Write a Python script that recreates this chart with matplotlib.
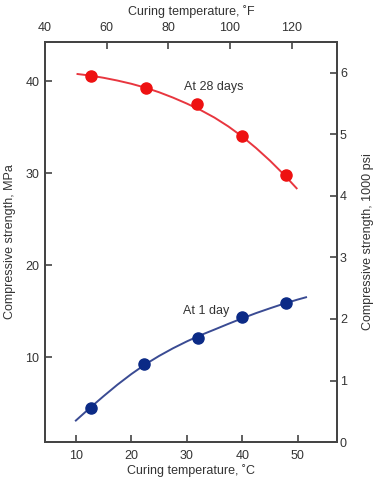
import matplotlib
matplotlib.use("Agg")
import matplotlib.pyplot as plt

plt.rcParams['font.family'] = ['Liberation Sans', 'DejaVu Sans']

# Measured points (curing temperature °C, compressive strength MPa)
temp_28d = [12.7, 22.6, 31.85, 39.9, 47.8]
strength_28d = [40.54, 39.2, 37.5, 34.0, 29.75]
temp_1d = [12.7, 22.3, 32.0, 40.0, 47.9]
strength_1d = [4.43, 9.2, 12.1, 14.3, 15.9]

# Fitted curves
curve_temp_28d = [10.3, 12.5, 15, 17.5, 20, 22.5, 25, 27.5, 30, 32.5, 35, 37.5, 40, 42.5, 45, 47.5, 49.8]
curve_str_28d = [40.76, 40.6, 40.35, 40.05, 39.7, 39.28, 38.78, 38.2, 37.55, 36.84, 36.02, 35.06, 33.96, 32.71, 31.34, 29.84, 28.34]
curve_temp_1d = [10.0, 12.5, 15, 17.5, 20, 22.5, 25, 27.5, 30, 32.5, 35, 37.5, 40, 42.5, 45, 47.5, 50, 51.5]
curve_str_1d = [3.1, 4.45, 5.75, 7.0, 8.15, 9.2, 10.12, 10.95, 11.7, 12.38, 12.99, 13.61, 14.21, 14.78, 15.3, 15.8, 16.25, 16.5]

bottom_ticks = [10, 20, 30, 40, 50]
top_ticks = [40, 60, 80, 100, 120]
left_ticks = [10, 20, 30, 40]
right_ticks = [0, 1, 2, 3, 4, 5, 6]

red_line = '#e8363f'
red_pt = '#ee1111'
blue_line = '#3a4b93'
blue_pt = '#0b2a86'
spine_c = '#444444'
txt_c = '#333333'
FS = 9

fig = plt.figure(figsize=(3.75, 4.8), dpi=100)
ax = fig.add_axes([0.12, 0.079, 0.779, 0.8335])

ax.plot(curve_temp_28d, curve_str_28d, color=red_line, lw=1.4, zorder=2)
ax.plot(temp_28d, strength_28d, 'o', color=red_pt, ms=8, zorder=3)
ax.plot(curve_temp_1d, curve_str_1d, color=blue_line, lw=1.4, zorder=2)
ax.plot(temp_1d, strength_1d, 'o', color=blue_pt, ms=8, zorder=3)

ax.text(34.8, 39.3, 'At 28 days', ha='center', va='center', fontsize=FS, color=txt_c)
ax.text(33.5, 15.0, 'At 1 day', ha='center', va='center', fontsize=FS, color=txt_c)

ax.set_xlim(4.44, 57.1)
ax.set_ylim(0.76, 44.24)
ax.set_xticks(bottom_ticks)
ax.set_yticks(left_ticks)
ax.set_xlabel('Curing temperature, ˚C', fontsize=FS, color=txt_c, labelpad=1)
ax.set_ylabel('Compressive strength, MPa', fontsize=FS, color=txt_c, labelpad=7)

def c2f(c):
    return c * 9.0 / 5.0 + 32.0

def f2c(f):
    return (f - 32.0) * 5.0 / 9.0

sec = ax.secondary_xaxis('top', functions=(c2f, f2c))
sec.set_xticks(top_ticks)
sec.set_xlabel('Curing temperature, ˚F', fontsize=FS, color=txt_c, labelpad=5)

ax2 = ax.twinx()
ax2.set_ylim(0, 6.5)
ax2.set_yticks(right_ticks)
ax2.set_ylabel('Compressive strength, 1000 psi', fontsize=FS, color=txt_c, labelpad=11)

for a in (ax, ax2, sec):
    for s in a.spines.values():
        s.set_color(spine_c)
        s.set_linewidth(1.3)
    a.tick_params(direction='in', length=5, width=1.2, color=spine_c,
                  labelsize=FS, labelcolor=txt_c, pad=4)
ax.tick_params(axis='x', pad=6)
sec.tick_params(axis='x', pad=6)
ax2.tick_params(axis='y', pad=2)

fig.savefig('out.png', dpi=100)
